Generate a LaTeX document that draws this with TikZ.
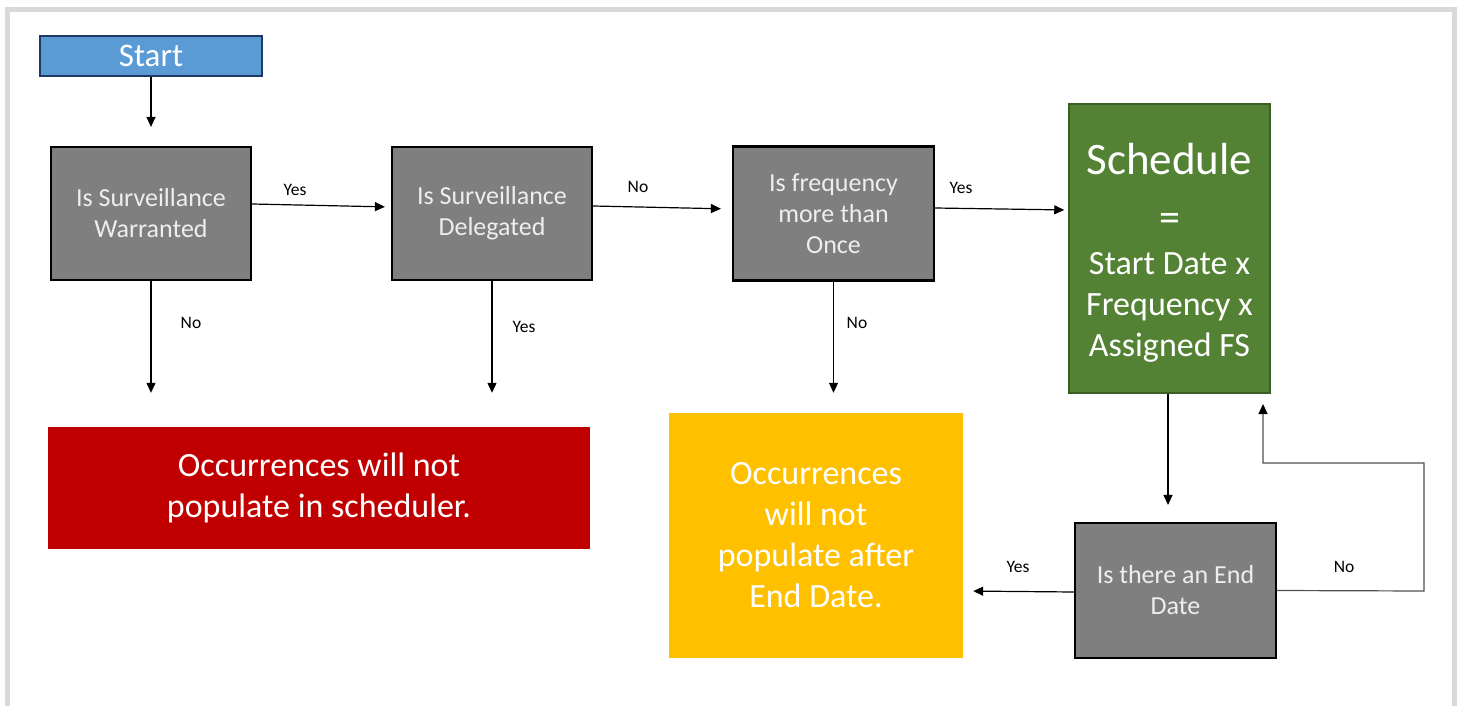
\documentclass[tikz,border=0pt]{standalone}
\usepackage{fontspec}
\setmainfont{Carlito}
\usetikzlibrary{arrows.meta,calc}
\definecolor{boxgray}{HTML}{7F7F7F}
\definecolor{startblue}{HTML}{5B9BD5}
\definecolor{startborder}{HTML}{1F3864}
\definecolor{schedgreen}{HTML}{548235}
\definecolor{schedborder}{HTML}{3B5E25}
\definecolor{stopred}{HTML}{C00000}
\definecolor{warnyellow}{HTML}{FFC000}
\definecolor{framegray}{HTML}{D9D9D9}
\definecolor{graytext}{HTML}{EEEEEE}
\definecolor{loopgray}{HTML}{505050}
\tikzset{
  decision/.style={draw=black, line width=2.2pt, fill=boxgray, text=graytext,
    minimum width=200pt, minimum height=133pt, align=center, inner sep=0pt,
    font=\fontsize{26}{31}\selectfont},
  bigtext/.style={text=white, align=center, inner sep=0pt, font=\fontsize{34}{41}\selectfont},
  conn/.style={draw=black, line width=1.2pt, -{Triangle[length=10pt,width=9pt]}},
  lbl/.style={font=\fontsize{17.5}{20}\selectfont, text=black, inner sep=0pt},
}
\begin{document}
\begin{tikzpicture}[x=1pt,y=-1pt]
\useasboundingbox (0,0) rectangle (1461,706);
\fill[white] (0,0) rectangle (1461,706);
% frame
\draw[framegray, line width=5pt] (7.5,706) -- (7.5,10) -- (1454,10) -- (1454,706);

% nodes
\node[draw=startborder, line width=2pt, fill=startblue, text=white, minimum width=222pt,
  minimum height=40pt, inner sep=0pt, font=\fontsize{33}{38}\selectfont] (start) at (151,56) {Start};
\node[decision] (b1) at (151,213.5) {Is Surveillance\\Warranted};
\node[decision] (b2) at (492,213.5) {Is Surveillance\\Delegated};
\node[decision, minimum width=201pt, minimum height=134pt] (b3) at (833.5,213.5) {Is frequency\\more than\\Once};
\node[bigtext, draw=schedborder, line width=1.5pt, fill=schedgreen, minimum width=201pt, minimum height=289pt]
  (sched) at (1169.5,248.5) {{\fontsize{45}{50}\selectfont\rule{0pt}{39pt}Schedule}\\[16pt]{\fontsize{42}{46}\selectfont =}\\[2pt]Start Date x\\Frequency x\\Assigned FS};
\node[bigtext, fill=stopred, minimum width=542pt, minimum height=122pt] (red) at (319,488)
  {Occurrences will not\\populate in scheduler.};
\node[bigtext, fill=warnyellow, minimum width=294pt, minimum height=245pt] (yellow) at (816,535.5)
  {Occurrences\\will not\\populate after\\End Date.};
\node[decision, minimum width=201pt, minimum height=135pt] (b5) at (1175.5,590.5) {Is there an End\\Date};

% helper coordinates
\coordinate (loopA) at (1424,591);
\coordinate (loopB) at (1424,463);
\coordinate (loopC) at (1263,463);
\coordinate (loopD) at (1263,393);

% connectors
\draw[conn, shorten >=19pt] (start.south) -- (b1.north);
\draw[conn, shorten >=6pt] ([yshift=9.5pt]b1.east) -- ([yshift=6.5pt]b2.west);
\draw[conn, shorten >=11pt] ([yshift=7.5pt]b2.east) -- ([yshift=4.5pt]b3.west);
\draw[conn, shorten >=4pt] ([yshift=5.5pt]b3.east) -- ([yshift=3.5pt]b3.east -| sched.west);
\draw[conn, shorten >=34pt] (b1.south) -- (b1.south |- red.north);
\draw[conn, shorten >=34pt] (b2.south) -- (b2.south |- red.north);
\draw[conn, shorten >=20pt] (b3.south) -- (b3.south |- yellow.north);
\draw[conn, shorten >=17pt] ([xshift=-1.5pt]sched.south) -- ([xshift=-1.5pt]sched.south |- b5.north);
\draw[conn, shorten >=10pt] ([yshift=-1.5pt]b5.west) -- ([yshift=-0.5pt]b5.west -| yellow.east);
\draw[conn, draw=loopgray, -{Triangle[length=10pt,width=9pt,color=black]}, shorten >=11pt]
  (b5.east) -- (loopA) -- (loopB) -- (loopC) -- (loopD);

% labels
\node[lbl] (l1) at (295,190) {Yes};
\node[lbl] (l2) at (638,187) {No};
\node[lbl] (l3) at (961,188) {Yes};
\node[lbl] (l4) at (191,323) {No};
\node[lbl] (l5) at (524,327) {Yes};
\node[lbl] (l6) at (857,323) {No};
\node[lbl] (l7) at (1018,567) {Yes};
\node[lbl] (l8) at (1344,567) {No};
\end{tikzpicture}
\end{document}
